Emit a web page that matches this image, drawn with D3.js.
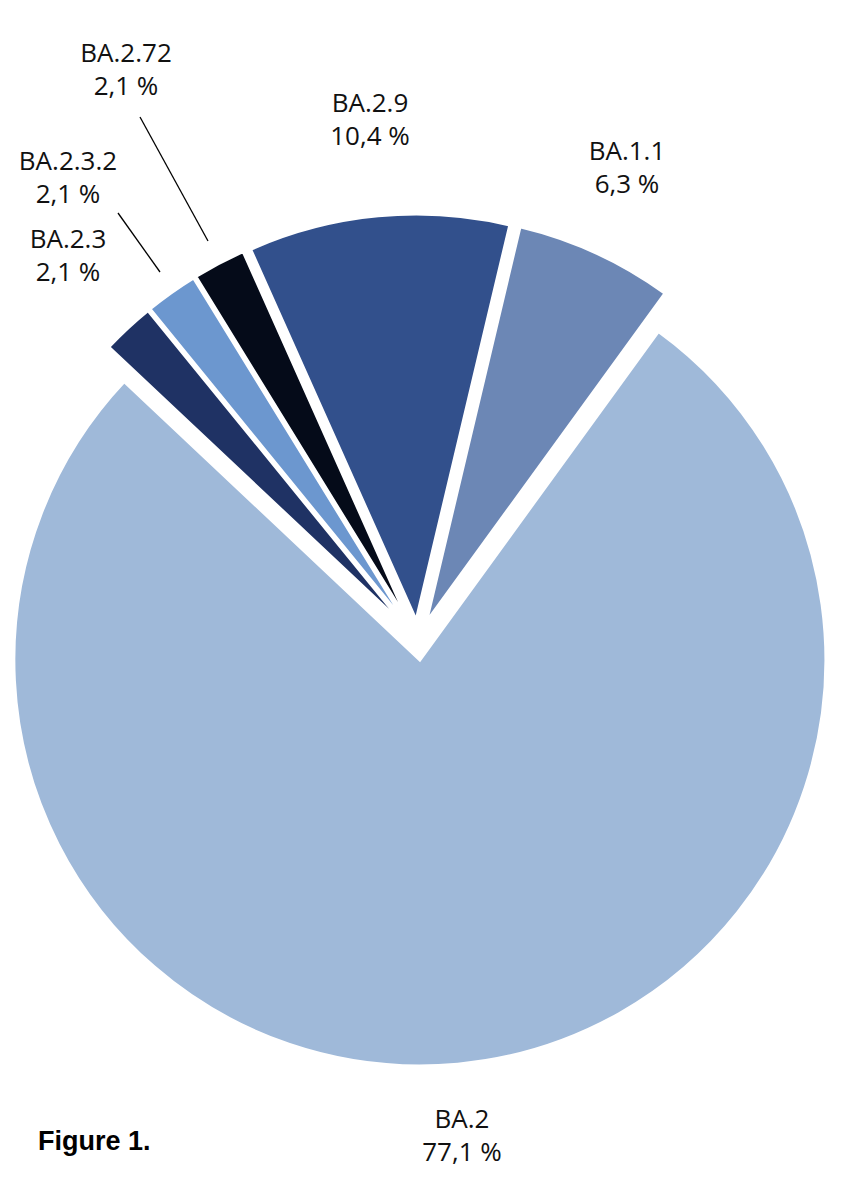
<!DOCTYPE html>
<html><head><meta charset="utf-8">
<script src="https://cdn.jsdelivr.net/npm/d3@7"></script>
<style>body{margin:0;background:#fff}</style></head>
<body><svg id="chart" width="852" height="1200"></svg>
<script>
const names = ["BA.2", "BA.2.3", "BA.2.3.2", "BA.2.72", "BA.2.9", "BA.1.1"];
const values = [77.1, 2.1, 2.1, 2.1, 10.4, 6.3];
const labels = ["77,1 %", "2,1 %", "2,1 %", "2,1 %", "10,4 %", "6,3 %"];
const colors = ["#9fb9d9", "#1f3264", "#6c97cf", "#050b19", "#32508c", "#6c87b5"];

const svg = d3.select("#chart");
const cx = 418, cy = 640, r = 406, explode = 20;
const deg = Math.PI / 180;

const pie = d3.pie().sort(null).value(d => d).startAngle(36 * deg).endAngle(396 * deg);
const arcs = pie(values);
const arc = d3.arc().innerRadius(0).outerRadius(r);

const g = svg.append("g").attr("transform", `translate(${cx},${cy})`);
g.selectAll("path").data(arcs).enter().append("path")
	.attr("d", arc)
	.attr("fill", (d, i) => colors[i])
	.attr("stroke", "#fff").attr("stroke-width", 3)
	.attr("transform", d => {
		let a = (d.startAngle + d.endAngle) / 2;
		return `translate(${Math.sin(a) * explode},${-Math.cos(a) * explode})`;
	});

// label placement: [x, y] of the label centre relative to the page, plus optional leader line
const labelPos = [[462, 1128], [68, 248], [68, 170], [126, 62], [370, 112], [627, 160]];
const leaders = [null, null, [[118, 213], [160, 272]], [[140, 117], [208, 241]], null, null];

const lab = svg.append("g").attr("font-family", "Open Sans, sans-serif").attr("font-size", 26).attr("fill", "#111").attr("text-anchor", "middle");
names.forEach((n, i) => {
	let t = lab.append("text").attr("x", labelPos[i][0]).attr("y", labelPos[i][1]);
	t.append("tspan").attr("x", labelPos[i][0]).text(n);
	t.append("tspan").attr("x", labelPos[i][0]).attr("dy", 33).text(labels[i]);
	if (leaders[i]) {
		svg.append("line").attr("x1", leaders[i][0][0]).attr("y1", leaders[i][0][1])
			.attr("x2", leaders[i][1][0]).attr("y2", leaders[i][1][1])
			.attr("stroke", "#000").attr("stroke-width", 1.3);
	}
});

svg.append("text").attr("x", 38).attr("y", 1150)
	.attr("font-family", "Liberation Sans, Arial, sans-serif").attr("font-weight", "bold").attr("font-size", 27)
	.text("Figure 1.");
</script></body></html>
